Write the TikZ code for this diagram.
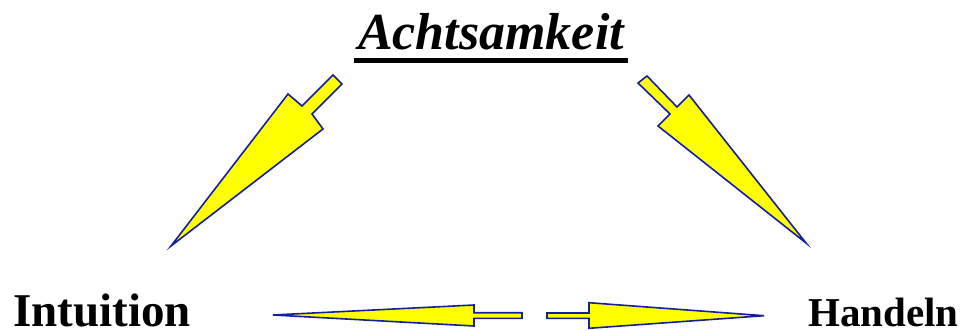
\documentclass[tikz,border=0pt]{standalone}
\usepackage{fontspec}
\setmainfont{Liberation Serif}
\definecolor{arrowedge}{RGB}{20,30,160}
\definecolor{arrowfill}{RGB}{255,255,0}
\tikzset{
  blockarrow/.style={draw=arrowedge, fill=arrowfill, line width=1.6pt, line join=miter},
  label/.style={inner sep=0pt, text depth=0pt, font=\bfseries}
}
\begin{document}
\begin{tikzpicture}[x=1pt,y=-1pt]
\useasboundingbox (0,0) rectangle (964,331);
% title with underline
\node[label, anchor=base, font=\bfseries\itshape\fontsize{52}{60}\selectfont] (title) at (491,50) {Achtsamkeit};
\fill (354,58) rectangle (628,63.5);
% side labels
\node[label, anchor=base west, font=\bfseries\fontsize{47}{54}\selectfont] (intuition) at (13,326) {Intuition};
\node[label, anchor=base west, font=\bfseries\fontsize{41}{48}\selectfont] (handeln) at (808,326) {Handeln};
% arrow from title down to the left
\draw[blockarrow] (171,246) -- (288,94) -- (302,106) -- (333,75) -- (342,84) -- (312,114) -- (323,129) -- cycle;
% arrow from title down to the right
\draw[blockarrow] (806,243) -- (658,126) -- (670,114) -- (638,83) -- (647,76) -- (677,107) -- (689,95) -- cycle;
% arrow pointing left towards Intuition
\draw[blockarrow] (273,315) -- (474,305) -- (474,312.7) -- (522,312.7) -- (522,318.3) -- (474,318.3) -- (474,326) -- cycle;
% arrow pointing right towards Handeln
\draw[blockarrow] (764,315.7) -- (589,302.7) -- (589,313) -- (547,313) -- (547,318.3) -- (589,318.3) -- (589,328.3) -- cycle;
\end{tikzpicture}
\end{document}
